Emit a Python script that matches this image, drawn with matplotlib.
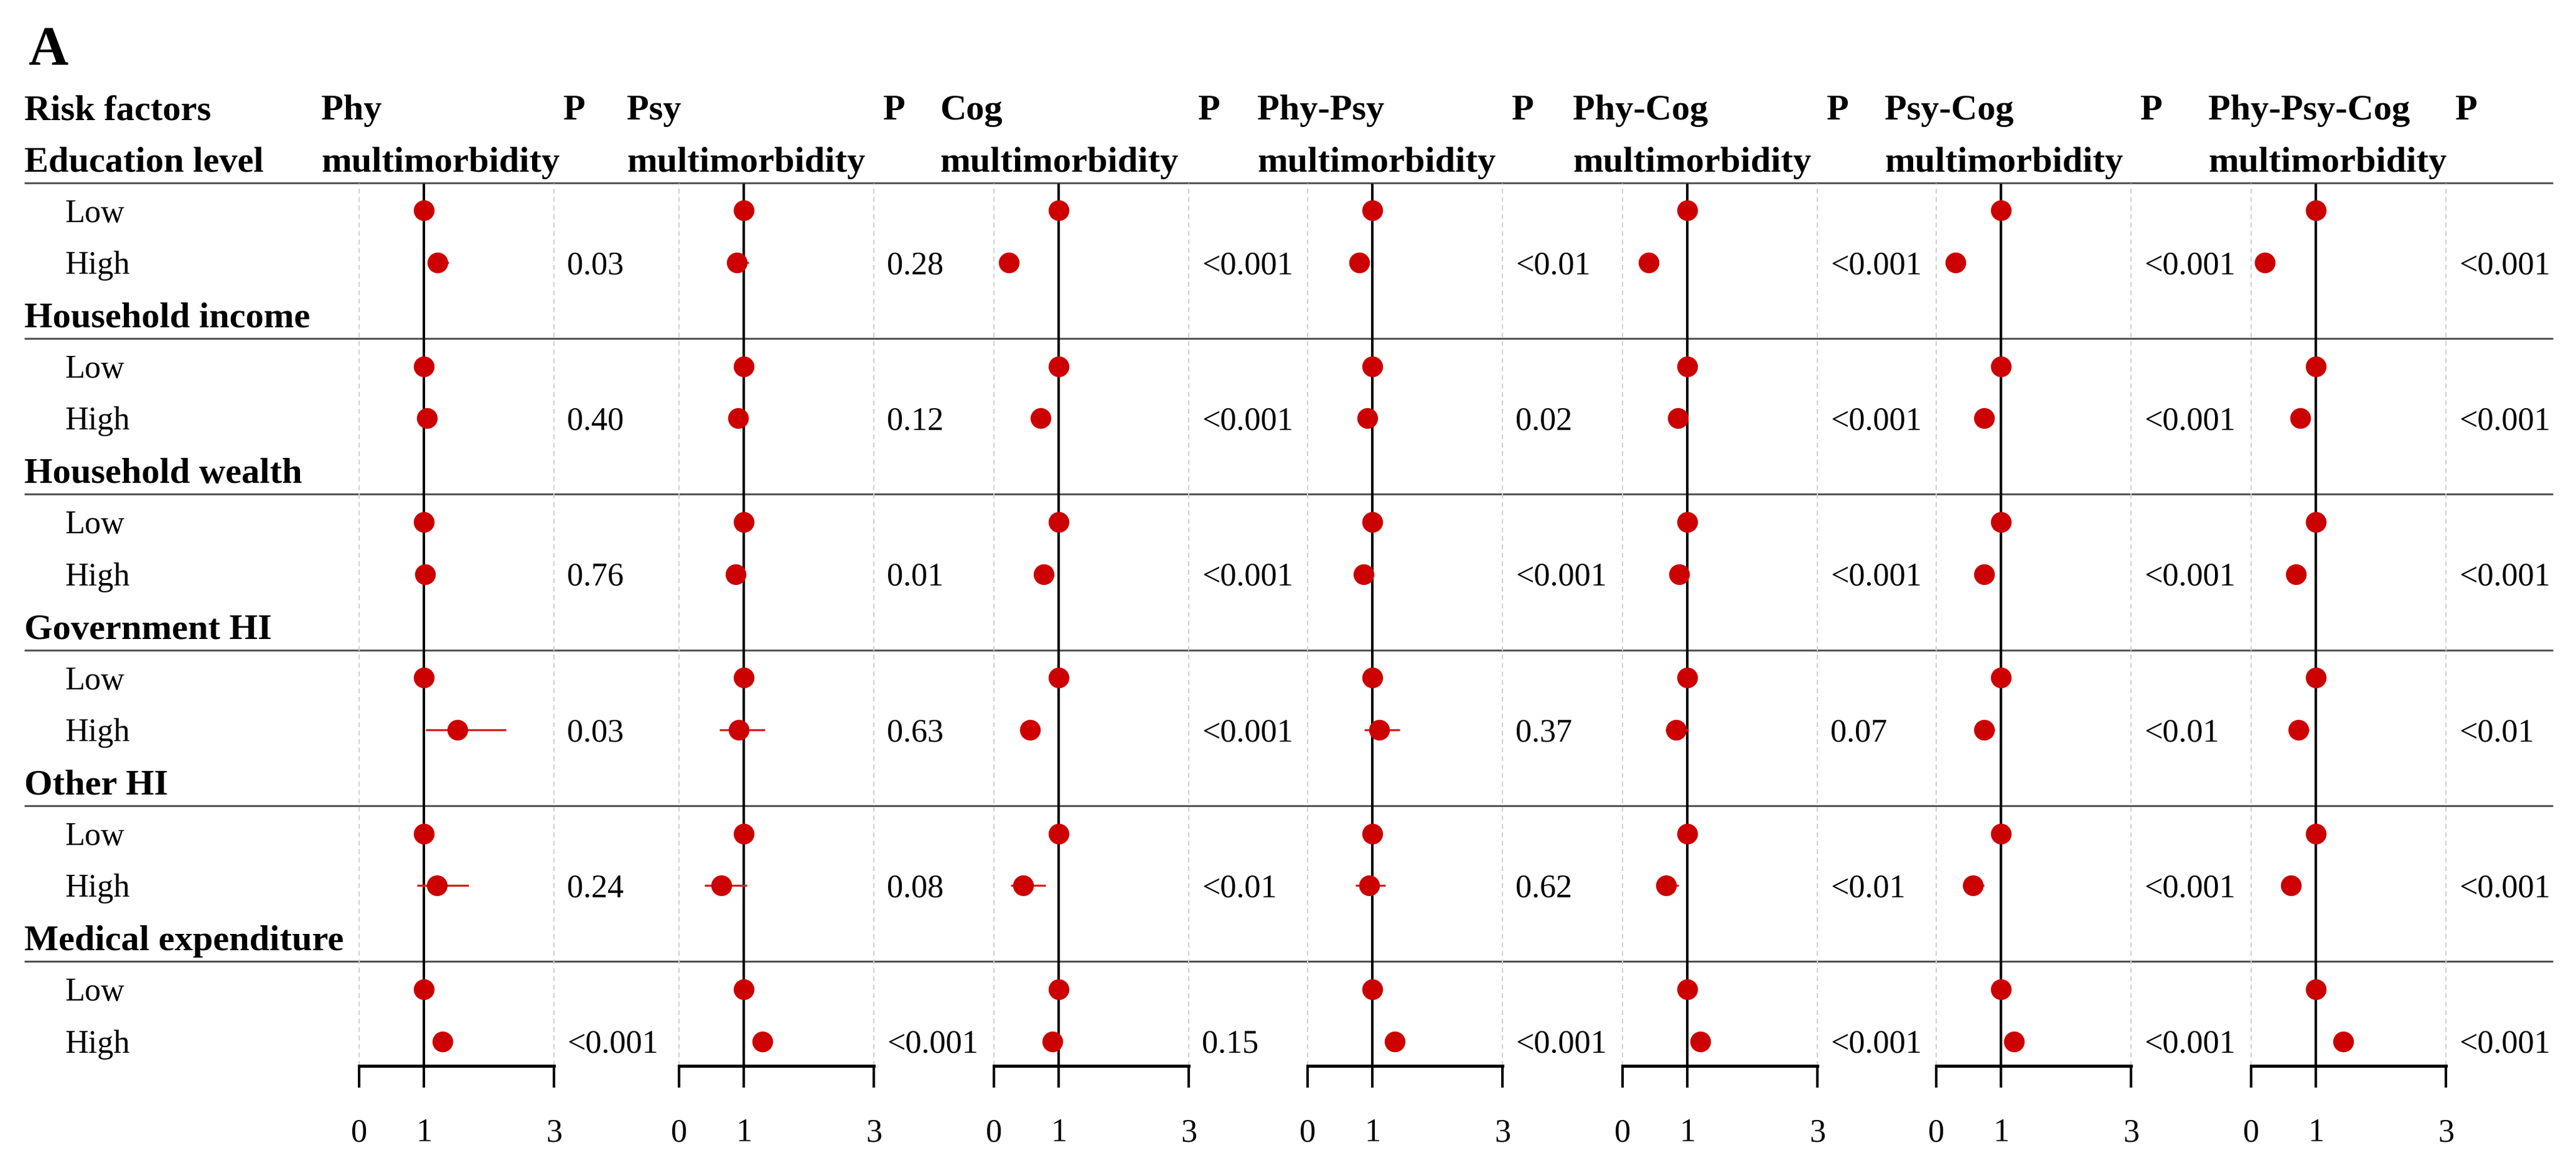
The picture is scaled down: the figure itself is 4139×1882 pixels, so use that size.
import numpy as np
import matplotlib.pyplot as plt

plt.rcParams["font.family"] = ["Liberation Serif", "DejaVu Serif"]

# =========================
# Data (odds ratio of "High" vs "Low", Low = reference 1)
# =========================
outcomes = ["Phy", "Psy", "Cog", "Phy-Psy", "Phy-Cog", "Psy-Cog", "Phy-Psy-Cog"]
factors = ["Education level", "Household income", "Household wealth",
           "Government HI", "Other HI", "Medical expenditure"]
levels = ["Low", "High"]
tick_values = [0, 1, 3]

# order inside each list follows `factors`
or_phy = [1.21, 1.04, 1.02, 1.51, 1.20, 1.28]
lo_phy = [1.05, 0.95, 0.94, 1.03, 0.89, 1.18]
hi_phy = [1.38, 1.13, 1.10, 2.26, 1.69, 1.38]
p_phy = ["0.03", "0.40", "0.76", "0.03", "0.24", "<0.001"]

or_psy = [0.89, 0.91, 0.87, 0.92, 0.65, 1.28]
lo_psy = [0.75, 0.80, 0.78, 0.62, 0.39, 1.15]
hi_psy = [1.07, 1.03, 0.97, 1.32, 1.04, 1.42]
p_psy = ["0.28", "0.12", "0.01", "0.63", "0.08", "<0.001"]

or_cog = [0.23, 0.72, 0.77, 0.56, 0.45, 0.90]
lo_cog = [0.17, 0.64, 0.69, 0.49, 0.26, 0.78]
hi_cog = [0.31, 0.81, 0.86, 0.64, 0.80, 1.04]
p_cog = ["<0.001", "<0.001", "<0.001", "<0.001", "<0.01", "0.15"]

or_phy_psy = [0.80, 0.92, 0.86, 1.10, 0.95, 1.34]
lo_phy_psy = [0.68, 0.86, 0.80, 0.87, 0.74, 1.22]
hi_phy_psy = [0.94, 0.99, 0.93, 1.42, 1.20, 1.47]
p_phy_psy = ["<0.01", "0.02", "<0.001", "0.37", "0.62", "<0.001"]

or_phy_cog = [0.40, 0.85, 0.87, 0.82, 0.67, 1.20]
lo_phy_cog = [0.32, 0.77, 0.80, 0.66, 0.52, 1.10]
hi_phy_cog = [0.50, 0.94, 0.94, 1.02, 0.86, 1.31]
p_phy_cog = ["<0.001", "<0.001", "<0.001", "0.07", "<0.01", "<0.001"]

or_psy_cog = [0.30, 0.74, 0.74, 0.74, 0.57, 1.20]
lo_psy_cog = [0.23, 0.66, 0.66, 0.61, 0.45, 1.09]
hi_psy_cog = [0.38, 0.83, 0.82, 0.90, 0.74, 1.32]
p_psy_cog = ["<0.001", "<0.001", "<0.001", "<0.01", "<0.001", "<0.001"]

or_all = [0.21, 0.76, 0.69, 0.73, 0.61, 1.42]
lo_all = [0.15, 0.68, 0.61, 0.60, 0.49, 1.29]
hi_all = [0.29, 0.85, 0.78, 0.89, 0.76, 1.56]
p_all = ["<0.001", "<0.001", "<0.001", "<0.01", "<0.001", "<0.001"]

panels = [
    (or_phy, lo_phy, hi_phy, p_phy),
    (or_psy, lo_psy, hi_psy, p_psy),
    (or_cog, lo_cog, hi_cog, p_cog),
    (or_phy_psy, lo_phy_psy, hi_phy_psy, p_phy_psy),
    (or_phy_cog, lo_phy_cog, hi_phy_cog, p_phy_cog),
    (or_psy_cog, lo_psy_cog, hi_psy_cog, p_psy_cog),
    (or_all, lo_all, hi_all, p_all),
]

# =========================
# Layout (pixels of the 4139x1883 canvas)
# =========================
W, H = 4139, 1883
ROW0, ROWH = 172.6, 83.44
AX_TOP, AX_BOT = 296, 1714
AXW = 313
axis_x0 = [577, 1091, 1597, 2101, 2607, 3111, 3617]
head_x = [516, 1007, 1510, 2020, 2527, 3028, 3548]
RED = "#CC0000"
FS_B, FS_R = 42, 37.5
B_OFF, R_OFF = 0.235, 0.206   # baseline offset (rows) so caps are centred


def row(px):
    return (px - ROW0) / ROWH


fig = plt.figure(figsize=(W / 100, H / 100), dpi=100)
fig.patch.set_facecolor("white")

ax = fig.add_axes([0, 0, 1, 1])
ax.set_xlim(0, W)
ax.set_ylim(row(H), row(0))
ax.axis("off")

ax.text(45, row(103), "A", fontsize=64, fontweight="bold", va="baseline")
ax.text(39, 0 + B_OFF, "Risk factors", fontsize=FS_B, fontweight="bold", va="baseline")

for k, name in enumerate(outcomes):
    px = axis_x0[k] + AXW + 21
    ax.text(head_x[k], 0 + B_OFF, name, fontsize=FS_B, fontweight="bold", va="baseline")
    ax.text(head_x[k], 1 + B_OFF, "multimorbidity", fontsize=FS_B, fontweight="bold", va="baseline")
    ax.text(px - 6, 0 + B_OFF, "P", fontsize=FS_B, fontweight="bold", va="baseline")
    for i, p in enumerate(panels[k][3]):
        ax.text(px, 3 + 3 * i + R_OFF, p, fontsize=FS_R, va="baseline")

for i, name in enumerate(factors):
    g = 1 + 3 * i
    ax.text(39, g + B_OFF, name, fontsize=FS_B, fontweight="bold", va="baseline")
    ax.hlines(g + 0.465, 39, 4102, color="#555555", lw=2.2)
    for j, lev in enumerate(levels):
        ax.text(105, g + 1 + j + R_OFF, lev, fontsize=FS_R, va="baseline")

# =========================
# Forest panels
# =========================
rows_low = [2 + 3 * i for i in range(len(factors))]
rows_high = [3 + 3 * i for i in range(len(factors))]

for k, (ors, lo, hi, _) in enumerate(panels):
    fa = fig.add_axes([axis_x0[k] / W, (H - AX_BOT) / H, AXW / W, (AX_BOT - AX_TOP) / H])
    fa.patch.set_alpha(0)
    fa.set_xlim(0, 3)
    fa.set_ylim(row(AX_BOT), row(AX_TOP))
    for s in ["top", "left", "right"]:
        fa.spines[s].set_visible(False)
    fa.spines["bottom"].set_linewidth(3.6)
    fa.set_yticks([])
    fa.set_xticks(tick_values)
    fa.set_xticklabels([str(t) for t in tick_values])
    fa.tick_params(axis="x", direction="out", length=25, width=2.9, pad=35, labelsize=FS_R)
    fa.grid(axis="x", color="#cfcfcf", linestyle=(0, (4, 3)), linewidth=1.4)
    for gl in fa.get_xgridlines():
        gl.set_clip_on(False)
    fa.set_axisbelow(True)
    fa.axvline(1, color="black", lw=2.9, zorder=2)

    fa.hlines(rows_high, lo, hi, color="#D42020", lw=2.4, zorder=3)
    fa.plot(np.ones(len(rows_low)), rows_low, "o", ms=24, color=RED, mec="none", zorder=4)
    fa.plot(ors, rows_high, "o", ms=24, color=RED, mec="none", zorder=4)

fig.savefig("out.png", dpi=100)
